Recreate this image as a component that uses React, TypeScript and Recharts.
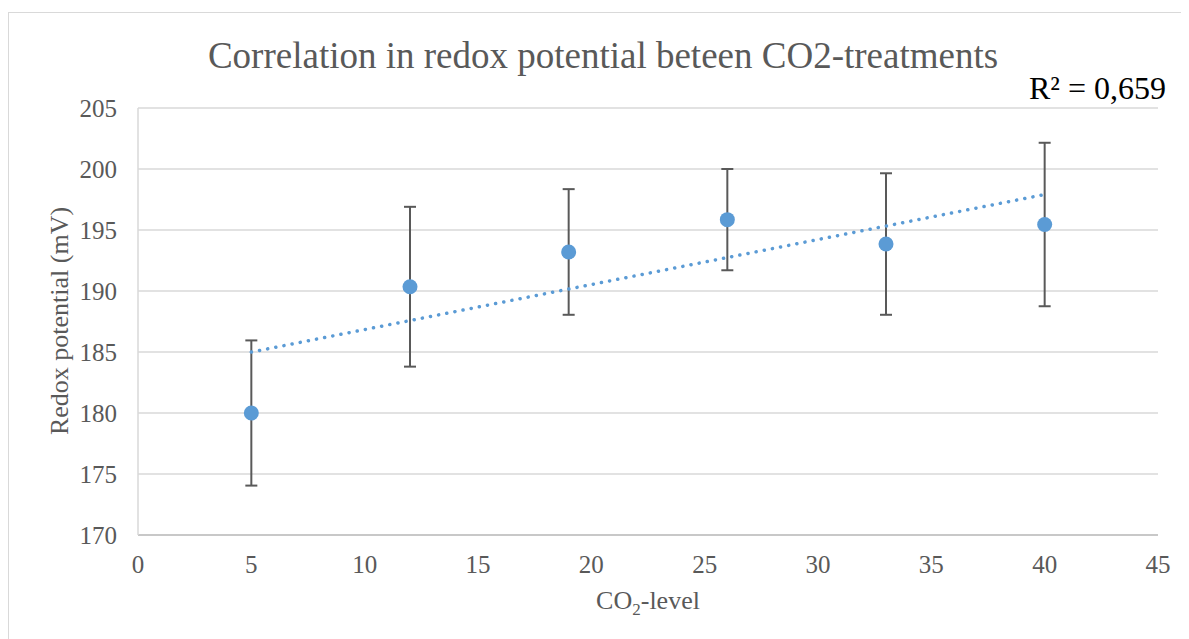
import {
    ComposedChart,
    Scatter,
    Line,
    XAxis,
    YAxis,
    CartesianGrid,
    ErrorBar,
} from 'recharts'

// CO2 treatment levels and the measured redox potential (mean ± error)
const co2Levels = [5, 12, 19, 26, 33, 40]
const redoxMeans = [180.0, 190.35, 193.2, 195.85, 193.85, 195.45]
const redoxErrors = [5.95, 6.55, 5.15, 4.15, 5.8, 6.7]

const xTicks = [0, 5, 10, 15, 20, 25, 30, 35, 40, 45]
const yTicks = [170, 175, 180, 185, 190, 195, 200, 205]

const points = co2Levels.map((x, i) => ({
    x,
    y: redoxMeans[i],
    err: redoxErrors[i],
}))

// least-squares trend line over the measured points
function linearFit(xs: number[], ys: number[]) {
    const n = xs.length
    const mx = xs.reduce((a, b) => a + b, 0) / n
    const my = ys.reduce((a, b) => a + b, 0) / n
    let sxy = 0
    let sxx = 0
    for (let i = 0; i < n; i++) {
        sxy += (xs[i] - mx) * (ys[i] - my)
        sxx += (xs[i] - mx) * (xs[i] - mx)
    }
    const slope = sxy / sxx
    return { slope, intercept: my - slope * mx }
}

const fit = linearFit(co2Levels, redoxMeans)
const trend = [co2Levels[0], co2Levels[co2Levels.length - 1]].map((x) => ({
    x,
    y: fit.intercept + fit.slope * x,
}))

const FONT = '"Liberation Serif", "Times New Roman", serif'
const GREY = '#595959'
const BLUE = '#5b9bd5'

const tickStyle = { fontFamily: FONT, fontSize: 25, fill: GREY }

export default function App() {
    return (
        <div
            style={{
                position: 'relative',
                width: 1181,
                height: 631,
                overflow: 'hidden',
            }}
        >
            <div
                style={{
                    position: 'absolute',
                    left: 0,
                    top: 4,
                    width: 1300,
                    height: 700,
                    border: '1px solid #d9d9d9',
                    boxSizing: 'border-box',
                }}
            />

            <div style={{ position: 'absolute', left: 0, top: 0 }}>
                <ComposedChart
                    width={1181}
                    height={631}
                    margin={{ top: 100, right: 31, bottom: 64, left: 0 }}
                >
                    <CartesianGrid
                        vertical={false}
                        stroke="#d9d9d9"
                        strokeWidth={1.5}
                    />
                    <XAxis
                        type="number"
                        dataKey="x"
                        domain={[0, 45]}
                        ticks={xTicks}
                        interval={0}
                        height={40}
                        tickLine={false}
                        tickSize={0}
                        tickMargin={20}
                        axisLine={{ stroke: '#bfbfbf', strokeWidth: 1.5 }}
                        tick={tickStyle}
                    />
                    <YAxis
                        type="number"
                        dataKey="y"
                        domain={[170, 205]}
                        ticks={yTicks}
                        interval={0}
                        width={130}
                        tickLine={false}
                        tickSize={0}
                        tickMargin={21}
                        axisLine={{ stroke: '#d9d9d9', strokeWidth: 1.5 }}
                        tick={tickStyle}
                    />
                    <Scatter
                        data={points}
                        dataKey="y"
                        isAnimationActive={false}
                        shape={(p: any) => (
                            <circle cx={p.cx} cy={p.cy} r={7.5} fill={BLUE} />
                        )}
                    >
                        <ErrorBar
                            dataKey="err"
                            direction="y"
                            width={6}
                            stroke={GREY}
                            strokeWidth={2}
                            isAnimationActive={false}
                        />
                    </Scatter>
                    <Line
                        data={trend}
                        dataKey="y"
                        type="linear"
                        stroke={BLUE}
                        strokeWidth={3.5}
                        strokeLinecap="round"
                        strokeDasharray="0.1 8.2"
                        dot={false}
                        activeDot={false}
                        isAnimationActive={false}
                    />
                </ComposedChart>
            </div>

            <svg
                width={1181}
                height={631}
                style={{ position: 'absolute', left: 0, top: 0, pointerEvents: 'none' }}
            >
                <text
                    x={595}
                    y={60}
                    textAnchor="middle"
                    fontFamily={FONT}
                    fontSize={37}
                    fill={GREY}
                >
                    Correlation in redox potential beteen CO2-treatments
                </text>
                <text
                    x={1158}
                    y={91}
                    textAnchor="end"
                    fontFamily={FONT}
                    fontSize={32}
                    fill="#000000"
                >
                    R² = 0,659
                </text>
                <text
                    x={640}
                    y={601}
                    textAnchor="middle"
                    fontFamily={FONT}
                    fontSize={26}
                    fill={GREY}
                >
                    CO
                    <tspan fontSize={17} dy={6}>2</tspan>
                    <tspan dy={-6}>-level</tspan>
                </text>
                <text
                    transform="translate(60, 313) rotate(-90)"
                    textAnchor="middle"
                    fontFamily={FONT}
                    fontSize={26}
                    fill={GREY}
                >
                    Redox potential (mV)
                </text>
            </svg>
        </div>
    )
}
